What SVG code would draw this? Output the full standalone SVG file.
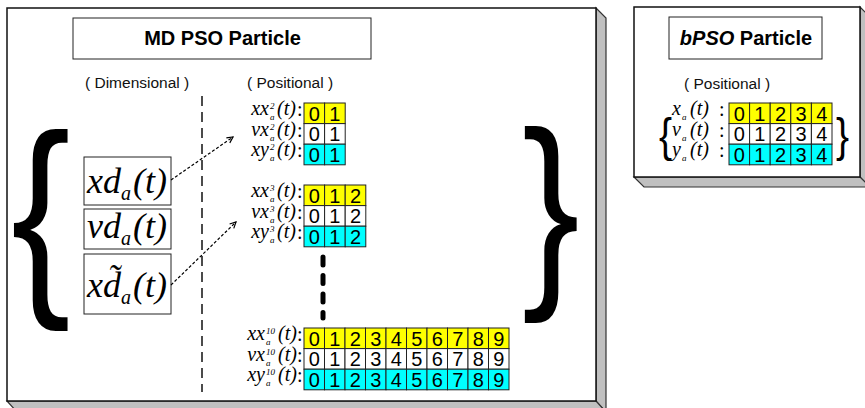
<svg xmlns="http://www.w3.org/2000/svg" width="865" height="408" viewBox="0 0 865 408">
<defs>
<style>
.front{fill:#fff;stroke:#111;stroke-width:1.5}
.side{fill:#c0c0c0;stroke:#333;stroke-width:1.2}
.tbox{fill:#fff;stroke:#222;stroke-width:1}
.ttl{font-family:"Liberation Sans",Arial,sans-serif;font-weight:bold;font-size:20px;fill:#000}
.hd{font-family:"Liberation Sans",Arial,sans-serif;font-size:15.5px;fill:#111}
.c{stroke:#222;stroke-width:1}
.y{fill:#ffff00}.w{fill:#fff}.cy{fill:#00ffff}
.dg{font-family:"Liberation Sans",Arial,sans-serif;font-size:20px;fill:#000;text-anchor:middle}
.m{font-family:"Liberation Serif","Times New Roman",serif;font-style:italic;font-size:20px;fill:#000}
.s{font-family:"Liberation Serif","Times New Roman",serif;font-style:italic;font-size:9px;fill:#000}
.col{font-family:"Liberation Serif","Times New Roman",serif;font-size:20px;fill:#000}
.big{font-family:"Liberation Serif","Times New Roman",serif;font-style:italic;font-size:36px;fill:#000}
.bs{font-family:"Liberation Serif","Times New Roman",serif;font-style:italic;font-size:20px;fill:#000}
.br{font-family:"Liberation Sans",Arial,sans-serif;fill:#000}
.conn{fill:none;stroke:#000;stroke-width:1.2;stroke-dasharray:3 2}
</style>
<marker id="ah" markerWidth="8" markerHeight="8" refX="7" refY="4" orient="auto" markerUnits="userSpaceOnUse">
<path d="M1,1 L7,4 L1,7" fill="none" stroke="#000" stroke-width="1.2"/>
</marker>
</defs>

<g id="md-panel">
<polygon class="side" points="596,8 606,18 606,412 596,401"/>
<polygon class="side" points="7,401 17,412 606,412 596,401"/>
<rect class="front" x="7" y="8" width="589" height="393"/>
</g>

<g id="bpso-panel">
<polygon class="side" points="860,7 870,17 870,187 860,177"/>
<polygon class="side" points="634,177 644,187 870,187 860,177"/>
<rect class="front" x="634" y="7" width="226" height="170"/>
</g>

<g id="md-title">
<rect class="tbox" x="73" y="18" width="298" height="41"/>
<text class="ttl" x="222.5" y="45" text-anchor="middle">MD PSO Particle</text>
</g>

<g id="bpso-title">
<rect class="tbox" x="669" y="17" width="153" height="42"/>
<text class="ttl" x="746" y="45" text-anchor="middle"><tspan font-style="italic">bPSO</tspan> Particle</text>
</g>

<g id="headers">
<text class="hd" x="85" y="88">( Dimensional )</text>
<text class="hd" x="247" y="88">( Positional )</text>
<text class="hd" x="684" y="89">( Positional )</text>
</g>

<line x1="202" y1="96" x2="202" y2="392" stroke="#111" stroke-width="1.5" stroke-dasharray="10 6"/>

<g id="braces">
<text class="br" font-size="218" transform="translate(11,286) scale(0.82,1)">{</text>
<text class="br" font-size="211" transform="translate(522,279) scale(0.82,1)">}</text>
<text class="br" font-size="46" transform="translate(659,151) scale(0.85,1)">{</text>
<text class="br" font-size="46" transform="translate(836,151) scale(0.85,1)">}</text>
</g>

<g id="dim-xd">
<rect class="tbox" x="84" y="157" width="87" height="48"/>
<text class="big" x="87" y="193">xd</text>
<text class="bs" x="121" y="200">a</text>
<text class="big" x="133" y="193">(t)</text>
</g>
<g id="dim-vd">
<rect class="tbox" x="84" y="209" width="87" height="40"/>
<text class="big" x="87" y="238">vd</text>
<text class="bs" x="121" y="245">a</text>
<text class="big" x="133" y="238">(t)</text>
</g>
<g id="dim-xdt">
<rect class="tbox" x="84" y="254" width="87" height="60"/>
<text class="big" x="87" y="297">xd&#x303;</text>
<text class="bs" x="121" y="304">a</text>
<text class="big" x="133" y="297">(t)</text>
</g>

<g id="connectors">
<line class="conn" x1="171" y1="180" x2="233" y2="137" marker-end="url(#ah)"/>
<line class="conn" x1="171" y1="285" x2="236" y2="222" marker-end="url(#ah)"/>
</g>

<g id="pos-2">
<text class="m" x="269" y="115" text-anchor="end">xx</text><text class="s" x="270" y="109">2</text><text class="s" x="270" y="120">a</text><text class="m" x="277" y="115">(t)</text><text class="col" x="297" y="116">:</text>
<text class="m" x="269" y="135.5" text-anchor="end">vx</text><text class="s" x="270" y="129.5">2</text><text class="s" x="270" y="140.5">a</text><text class="m" x="277" y="135.5">(t)</text><text class="col" x="297" y="136.5">:</text>
<text class="m" x="269" y="156" text-anchor="end">xy</text><text class="s" x="270" y="150">2</text><text class="s" x="270" y="161">a</text><text class="m" x="277" y="156">(t)</text><text class="col" x="297" y="157">:</text>
<g class="c">
<rect class="y" x="304" y="103" width="20.6" height="20.6"/><rect class="y" x="324.6" y="103" width="20.6" height="20.6"/>
<rect class="w" x="304" y="123.6" width="20.6" height="20.6"/><rect class="w" x="324.6" y="123.6" width="20.6" height="20.6"/>
<rect class="cy" x="304" y="144.2" width="20.6" height="20.6"/><rect class="cy" x="324.6" y="144.2" width="20.6" height="20.6"/>
</g>
<text class="dg" y="120.5"><tspan x="314.3">0</tspan><tspan x="334.9">1</tspan></text>
<text class="dg" y="141.1"><tspan x="314.3">0</tspan><tspan x="334.9">1</tspan></text>
<text class="dg" y="161.7"><tspan x="314.3">0</tspan><tspan x="334.9">1</tspan></text>
</g>

<g id="pos-3">
<text class="m" x="269" y="197" text-anchor="end">xx</text><text class="s" x="270" y="191">3</text><text class="s" x="270" y="202">a</text><text class="m" x="277" y="197">(t)</text><text class="col" x="297" y="198">:</text>
<text class="m" x="269" y="217.5" text-anchor="end">vx</text><text class="s" x="270" y="211.5">3</text><text class="s" x="270" y="222.5">a</text><text class="m" x="277" y="217.5">(t)</text><text class="col" x="297" y="218.5">:</text>
<text class="m" x="269" y="238" text-anchor="end">xy</text><text class="s" x="270" y="232">3</text><text class="s" x="270" y="243">a</text><text class="m" x="277" y="238">(t)</text><text class="col" x="297" y="239">:</text>
<g class="c">
<rect class="y" x="304" y="185" width="20.6" height="20.6"/><rect class="y" x="324.6" y="185" width="20.6" height="20.6"/><rect class="y" x="345.2" y="185" width="20.6" height="20.6"/>
<rect class="w" x="304" y="205.6" width="20.6" height="20.6"/><rect class="w" x="324.6" y="205.6" width="20.6" height="20.6"/><rect class="w" x="345.2" y="205.6" width="20.6" height="20.6"/>
<rect class="cy" x="304" y="226.2" width="20.6" height="20.6"/><rect class="cy" x="324.6" y="226.2" width="20.6" height="20.6"/><rect class="cy" x="345.2" y="226.2" width="20.6" height="20.6"/>
</g>
<text class="dg" y="202.5"><tspan x="314.3">0</tspan><tspan x="334.9">1</tspan><tspan x="355.5">2</tspan></text>
<text class="dg" y="223.1"><tspan x="314.3">0</tspan><tspan x="334.9">1</tspan><tspan x="355.5">2</tspan></text>
<text class="dg" y="243.7"><tspan x="314.3">0</tspan><tspan x="334.9">1</tspan><tspan x="355.5">2</tspan></text>
</g>

<line x1="323" y1="257" x2="323" y2="318" stroke="#000" stroke-width="5" stroke-linecap="round" stroke-dasharray="8 10.5"/>

<g id="pos-10">
<text class="m" x="265" y="340" text-anchor="end">xx</text><text class="s" x="266" y="334">10</text><text class="s" x="266" y="345">a</text><text class="m" x="278" y="340">(t)</text><text class="col" x="297" y="341">:</text>
<text class="m" x="265" y="360.5" text-anchor="end">vx</text><text class="s" x="266" y="354.5">10</text><text class="s" x="266" y="365.5">a</text><text class="m" x="278" y="360.5">(t)</text><text class="col" x="297" y="361.5">:</text>
<text class="m" x="265" y="381" text-anchor="end">xy</text><text class="s" x="266" y="375">10</text><text class="s" x="266" y="386">a</text><text class="m" x="278" y="381">(t)</text><text class="col" x="297" y="382">:</text>
<g class="c">
<rect class="y" x="304" y="328" width="20.5" height="20.6"/><rect class="y" x="324.5" y="328" width="20.5" height="20.6"/><rect class="y" x="345" y="328" width="20.5" height="20.6"/><rect class="y" x="365.5" y="328" width="20.5" height="20.6"/><rect class="y" x="386" y="328" width="20.5" height="20.6"/><rect class="y" x="406.5" y="328" width="20.5" height="20.6"/><rect class="y" x="427" y="328" width="20.5" height="20.6"/><rect class="y" x="447.5" y="328" width="20.5" height="20.6"/><rect class="y" x="468" y="328" width="20.5" height="20.6"/><rect class="y" x="488.5" y="328" width="20.5" height="20.6"/>
<rect class="w" x="304" y="348.6" width="20.5" height="20.6"/><rect class="w" x="324.5" y="348.6" width="20.5" height="20.6"/><rect class="w" x="345" y="348.6" width="20.5" height="20.6"/><rect class="w" x="365.5" y="348.6" width="20.5" height="20.6"/><rect class="w" x="386" y="348.6" width="20.5" height="20.6"/><rect class="w" x="406.5" y="348.6" width="20.5" height="20.6"/><rect class="w" x="427" y="348.6" width="20.5" height="20.6"/><rect class="w" x="447.5" y="348.6" width="20.5" height="20.6"/><rect class="w" x="468" y="348.6" width="20.5" height="20.6"/><rect class="w" x="488.5" y="348.6" width="20.5" height="20.6"/>
<rect class="cy" x="304" y="369.2" width="20.5" height="20.6"/><rect class="cy" x="324.5" y="369.2" width="20.5" height="20.6"/><rect class="cy" x="345" y="369.2" width="20.5" height="20.6"/><rect class="cy" x="365.5" y="369.2" width="20.5" height="20.6"/><rect class="cy" x="386" y="369.2" width="20.5" height="20.6"/><rect class="cy" x="406.5" y="369.2" width="20.5" height="20.6"/><rect class="cy" x="427" y="369.2" width="20.5" height="20.6"/><rect class="cy" x="447.5" y="369.2" width="20.5" height="20.6"/><rect class="cy" x="468" y="369.2" width="20.5" height="20.6"/><rect class="cy" x="488.5" y="369.2" width="20.5" height="20.6"/>
</g>
<text class="dg" y="345.5"><tspan x="314.25">0</tspan><tspan x="334.75">1</tspan><tspan x="355.25">2</tspan><tspan x="375.75">3</tspan><tspan x="396.25">4</tspan><tspan x="416.75">5</tspan><tspan x="437.25">6</tspan><tspan x="457.75">7</tspan><tspan x="478.25">8</tspan><tspan x="498.75">9</tspan></text>
<text class="dg" y="366.1"><tspan x="314.25">0</tspan><tspan x="334.75">1</tspan><tspan x="355.25">2</tspan><tspan x="375.75">3</tspan><tspan x="396.25">4</tspan><tspan x="416.75">5</tspan><tspan x="437.25">6</tspan><tspan x="457.75">7</tspan><tspan x="478.25">8</tspan><tspan x="498.75">9</tspan></text>
<text class="dg" y="386.7"><tspan x="314.25">0</tspan><tspan x="334.75">1</tspan><tspan x="355.25">2</tspan><tspan x="375.75">3</tspan><tspan x="396.25">4</tspan><tspan x="416.75">5</tspan><tspan x="437.25">6</tspan><tspan x="457.75">7</tspan><tspan x="478.25">8</tspan><tspan x="498.75">9</tspan></text>
</g>

<g id="bpso-pos">
<text class="m" x="681" y="115" text-anchor="end">x</text><text class="s" x="682" y="120">a</text><text class="m" x="690" y="115">(t)</text><text class="col" x="719" y="116">:</text>
<text class="m" x="681" y="135.5" text-anchor="end">v</text><text class="s" x="682" y="140.5">a</text><text class="m" x="690" y="135.5">(t)</text><text class="col" x="719" y="136.5">:</text>
<text class="m" x="681" y="156" text-anchor="end">y</text><text class="s" x="682" y="161">a</text><text class="m" x="690" y="156">(t)</text><text class="col" x="719" y="157">:</text>
<g class="c">
<rect class="y" x="729" y="103" width="20.6" height="20.6"/><rect class="y" x="749.6" y="103" width="20.6" height="20.6"/><rect class="y" x="770.2" y="103" width="20.6" height="20.6"/><rect class="y" x="790.8" y="103" width="20.6" height="20.6"/><rect class="y" x="811.4" y="103" width="20.6" height="20.6"/>
<rect class="w" x="729" y="123.6" width="20.6" height="20.6"/><rect class="w" x="749.6" y="123.6" width="20.6" height="20.6"/><rect class="w" x="770.2" y="123.6" width="20.6" height="20.6"/><rect class="w" x="790.8" y="123.6" width="20.6" height="20.6"/><rect class="w" x="811.4" y="123.6" width="20.6" height="20.6"/>
<rect class="cy" x="729" y="144.2" width="20.6" height="20.6"/><rect class="cy" x="749.6" y="144.2" width="20.6" height="20.6"/><rect class="cy" x="770.2" y="144.2" width="20.6" height="20.6"/><rect class="cy" x="790.8" y="144.2" width="20.6" height="20.6"/><rect class="cy" x="811.4" y="144.2" width="20.6" height="20.6"/>
</g>
<text class="dg" y="120.5"><tspan x="739.3">0</tspan><tspan x="759.9">1</tspan><tspan x="780.5">2</tspan><tspan x="801.1">3</tspan><tspan x="821.7">4</tspan></text>
<text class="dg" y="141.1"><tspan x="739.3">0</tspan><tspan x="759.9">1</tspan><tspan x="780.5">2</tspan><tspan x="801.1">3</tspan><tspan x="821.7">4</tspan></text>
<text class="dg" y="161.7"><tspan x="739.3">0</tspan><tspan x="759.9">1</tspan><tspan x="780.5">2</tspan><tspan x="801.1">3</tspan><tspan x="821.7">4</tspan></text>
</g>
</svg>
